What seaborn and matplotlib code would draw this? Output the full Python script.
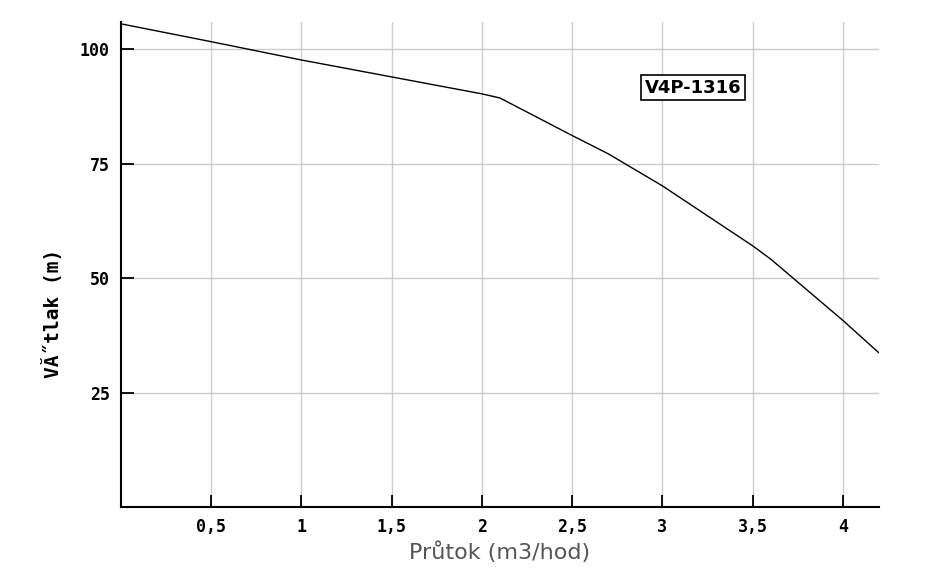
import pandas as pd
import matplotlib.pyplot as plt
import seaborn as sns

# Q-H curve
flow = [0.0, 0.5, 1.0, 1.5, 2.0, 2.1, 2.5, 2.7, 3.0, 3.5, 3.6, 4.0, 4.2]
head = [105.6, 101.7, 97.7, 94.0, 90.3, 89.4, 81.2, 77.2, 70.2, 57.1, 54.2, 40.8, 33.7]
x_ticks = [0.5, 1, 1.5, 2, 2.5, 3, 3.5, 4]
x_labels = ["0,5", "1", "1,5", "2", "2,5", "3", "3,5", "4"]
y_ticks = [25, 50, 75, 100]
pump_name = "V4P-1316"

sns.set_style("white")
plt.rcParams["font.family"] = ["DejaVu Sans", "Noto Sans"]


def main() -> None:
    df = pd.DataFrame({"flow": flow, "head": head})

    fig = plt.figure(figsize=(9.3, 5.79), dpi=100)
    ax = fig.add_axes([0.130, 0.1244, 0.815, 0.8376])

    sns.lineplot(data=df, x="flow", y="head", color="black", linewidth=1.0, ax=ax)

    ax.set_xlim(0, 4.2)
    ax.set_ylim(0, 106)
    ax.set_xticks(x_ticks)
    ax.set_xticklabels(x_labels)
    ax.set_yticks(y_ticks)

    ax.grid(True, color="#cccccc", linewidth=1.0)
    ax.set_axisbelow(True)
    for side in ["top", "right"]:
        ax.spines[side].set_visible(False)
    for side in ["left", "bottom"]:
        ax.spines[side].set_color("black")
        ax.spines[side].set_linewidth(1.5)

    ax.tick_params(axis="both", direction="in", length=9, width=1.3, color="black",
                   labelsize=12, labelcolor="black", pad=8, bottom=True, left=True)
    for lab in ax.get_xticklabels() + ax.get_yticklabels():
        lab.set_fontfamily("DejaVu Sans Mono")
        lab.set_fontweight("bold")

    ax.set_xlabel("Průtok (m3/hod)", fontsize=16, color="#555555", labelpad=4)
    ax.set_ylabel("V\u0102\u02DDtlak (m)", fontsize=14, fontweight="bold", color="black",
                  family="DejaVu Sans Mono")
    ax.yaxis.set_label_coords(-0.076, 0.40)

    ax.text(3.17, 91.6, pump_name, fontsize=13, fontweight="bold", family="DejaVu Sans",
            ha="center", va="center", color="black",
            bbox=dict(boxstyle="square,pad=0.2", facecolor="white", edgecolor="black", linewidth=1.2))

    fig.savefig("out.png", dpi=100)


if __name__ == "__main__":
    main()
